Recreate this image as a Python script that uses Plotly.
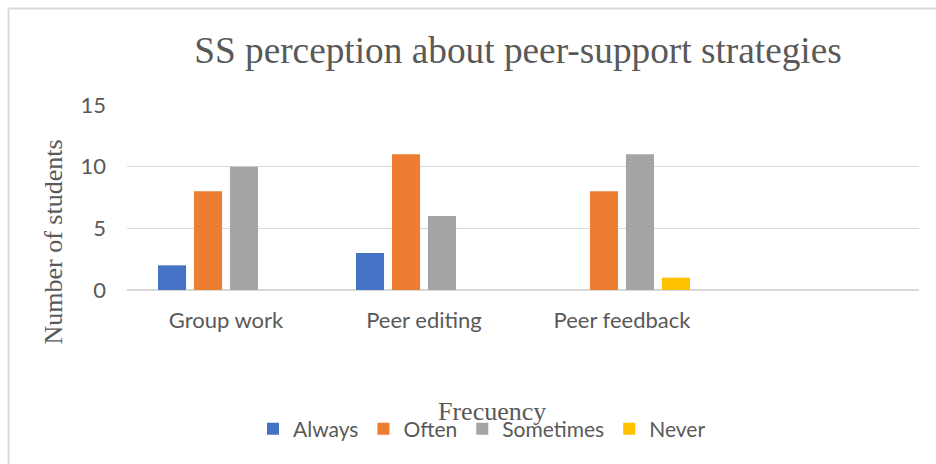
import plotly.graph_objects as go

categories = ["Group work", "Peer editing", "Peer feedback"]
always = [2, 3, 0]
often = [8, 11, 8]
sometimes = [10, 6, 11]
never = [0, 0, 1]
series_names = ["Always", "Often", "Sometimes", "Never"]
series_values = [always, often, sometimes, never]
colors = ["#4472C4", "#ED7D31", "#A5A5A5", "#FFC000"]
y_ticks = [0, 5, 10, 15]

W, H = 936, 464
L, R, T, B = 127, 17, 105, 174
pw, ph = W - L - R, H - T - B


def px(x):
    return (x - L) / pw


def py(y):
    return (H - B - y) / ph


fig = go.Figure()
for name, vals, c in zip(series_names, series_values, colors):
    fig.add_trace(go.Bar(x=categories, y=vals, name=name,
                         marker=dict(color=c, line=dict(width=0))))

tick_font = dict(family="Lato", size=22, color="#595959")
legend_font = dict(family="Lato", size=21, color="#595959")
serif = "Liberation Serif"

fig.update_layout(
    width=W, height=H,
    margin=dict(l=L, r=R, t=T, b=B, autoexpand=False),
    paper_bgcolor="white", plot_bgcolor="white",
    barmode="group", bargap=0.273, bargroupgap=0.22,
    title=dict(text="SS perception about peer-support strategies",
               font=dict(family=serif, size=37.3, color="#595959"),
               x=518 / W, xanchor="center", y=1 - 50 / H, yanchor="middle",
               xref="container", yref="container"),
    xaxis=dict(type="category", range=[-0.5, 3.5], showgrid=False,
               showline=False, ticks="", tickfont=tick_font,
               ticklabelstandoff=15, automargin=False),
    yaxis=dict(range=[0, 15], tickvals=y_ticks, showgrid=True,
               gridcolor="#D9D9D9", gridwidth=1, zeroline=True,
               zerolinecolor="#D9D9D9", zerolinewidth=2, showline=False,
               ticks="", tickfont=tick_font, ticklabelstandoff=20,
               automargin=False),
    legend=dict(orientation="h", x=px(482), xanchor="center",
                y=py(429), yanchor="middle", font=legend_font,
                bgcolor="rgba(0,0,0,0)"),
    showlegend=True,
)

fig.add_annotation(text="Number of students", xref="paper", yref="paper",
                   x=px(53), y=py(242.5), textangle=-90, showarrow=False,
                   font=dict(family=serif, size=26, color="#595959"),
                   xanchor="center", yanchor="middle")
fig.add_annotation(text="Frecuency", xref="paper", yref="paper",
                   x=px(492), y=py(411), showarrow=False,
                   font=dict(family=serif, size=26, color="#595959"),
                   xanchor="center", yanchor="middle")

# chart frame (top and left edges visible)
fig.add_shape(type="line", xref="paper", yref="paper",
              x0=px(8.5), x1=px(936), y0=py(8.5), y1=py(8.5),
              line=dict(color="#D9D9D9", width=2))
fig.add_shape(type="line", xref="paper", yref="paper",
              x0=px(8.5), x1=px(8.5), y0=py(8.5), y1=py(464),
              line=dict(color="#D9D9D9", width=2))

fig.write_html("out.html")
